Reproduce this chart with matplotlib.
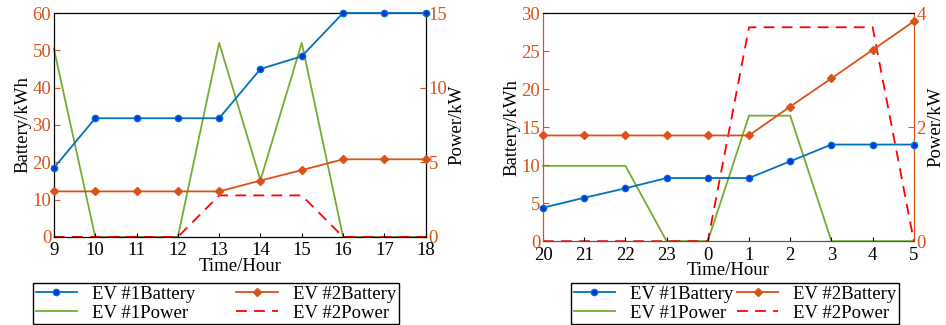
import numpy as np
import matplotlib.pyplot as plt

plt.rcParams['font.family'] = ['Liberation Serif', 'DejaVu Serif']
plt.rcParams['font.size'] = 13.5

# left panel: daytime 9-18
hours_day = [9, 10, 11, 12, 13, 14, 15, 16, 17, 18]
ev1_batt_day = [18.5, 31.8, 31.8, 31.8, 31.8, 45.0, 48.4, 60, 60, 60]
ev2_batt_day = [12.2, 12.2, 12.2, 12.2, 12.2, 15.1, 17.9, 20.8, 20.8, 20.8]
ev1_pow_day = [12.6, 0, 0, 0, 13.0, 3.8, 13.0, 0, 0, 0]
ev2_pow_day = [0, 0, 0, 0, 2.78, 2.78, 2.78, 0, 0, 0]

# right panel: night 20-5
hours_night = ['20', '21', '22', '23', '0', '1', '2', '3', '4', '5']
ev1_batt_night = [4.4, 5.7, 6.95, 8.3, 8.3, 8.3, 10.5, 12.7, 12.7, 12.7]
ev2_batt_night = [13.9, 13.9, 13.9, 13.9, 13.9, 13.9, 17.7, 21.4, 25.15, 28.9]
ev1_pow_night = [1.32, 1.32, 1.32, 0, 0, 2.2, 2.2, 0, 0, 0]
ev2_pow_night = [0, 0, 0, 0, 0, 3.75, 3.75, 3.75, 3.75, 0]

blue = '#0072BD'
orange = '#D95319'
green = '#77AC30'
red = '#FF0000'

fig = plt.figure(figsize=(9.46, 3.25), dpi=100)


def panel(rect, x, xt, b1, b2, p1, p2, bmax, pmax, bticks, pticks, color_spines, leg_box, colspace):
    ax = fig.add_axes(rect)
    ax2 = ax.twinx()
    h1, = ax.plot(x, b1, color=blue, lw=1.3, marker='o', ms=4.5, mfc='#0033ee', mec=blue, clip_on=False, zorder=5)
    h2, = ax.plot(x, b2, color=orange, lw=1.3, marker='D', ms=4.5, mfc=orange, mec=orange, clip_on=False, zorder=5)
    h3, = ax2.plot(x, p1, color=green, lw=1.3, clip_on=False)
    h4, = ax2.plot(x, p2, color=red, lw=1.3, ls=(0, (6, 4)), clip_on=False)
    ax.set_xlim(x[0], x[-1])
    ax.set_xticks(x)
    ax.set_xticklabels(xt)
    ax.set_ylim(0, bmax)
    ax.set_yticks(bticks)
    ax2.set_ylim(0, pmax)
    ax2.set_yticks(pticks)
    ax.set_ylabel('Battery/kWh', labelpad=1)
    ax2.set_ylabel('Power/kW', labelpad=1)
    ax.set_xlabel('Time/Hour', labelpad=-1)
    ax.tick_params(axis='y', direction='in', colors=orange, labelcolor=orange, length=4, pad=2)
    ax2.tick_params(axis='y', direction='in', colors=orange, labelcolor=orange, length=4, pad=2)
    ax.tick_params(axis='x', direction='in', length=3, pad=4)
    for a in (ax, ax2):
        if color_spines:
            a.spines['left'].set_color(orange)
            a.spines['right'].set_color(orange)
            a.spines['bottom'].set_color('#555555')
    ax.set_zorder(ax2.get_zorder() + 1)
    ax.patch.set_visible(False)
    fig.legend([h1, h3, h2, h4], ['EV #1Battery', 'EV #1Power', 'EV #2Battery', 'EV #2Power'],
               ncol=2, loc='center', bbox_to_anchor=leg_box, numpoints=1,
               frameon=True, fancybox=False, edgecolor='black', framealpha=1,
               handlelength=2.2, handletextpad=0.8, columnspacing=colspace,
               borderpad=0.15, labelspacing=0.1, fontsize=13.5)
    return ax, ax2


panel([0.057, 0.271, 0.393, 0.689], hours_day, [str(h) for h in hours_day],
      ev1_batt_day, ev2_batt_day, ev1_pow_day, ev2_pow_day,
      60, 15, [0, 10, 20, 30, 40, 50, 60], [0, 5, 10, 15], False,
      (0.228, 0.066), 2.2)

panel([0.574, 0.258, 0.392, 0.702], list(range(10)), hours_night,
      ev1_batt_night, ev2_batt_night, ev1_pow_night, ev2_pow_night,
      30, 4, [0, 5, 10, 15, 20, 25, 30], [0, 2, 4], True,
      (0.777, 0.066), 0.2)

fig.savefig('out.png', dpi=100)
